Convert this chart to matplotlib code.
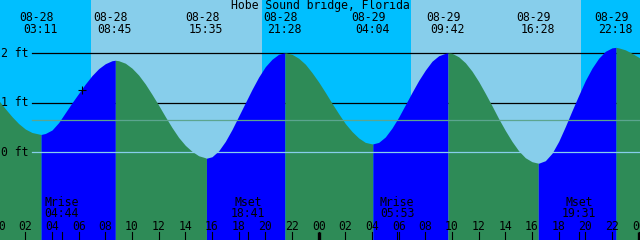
import numpy as np
import matplotlib
matplotlib.use('Agg')
import matplotlib.pyplot as plt

# Params
title   ='Hobe Sound bridge, Florida'
days    =['08-28','08-29']

# Tide extremes (date, time, height in ft)
ext_dates=['08-28','08-28','08-28','08-28','08-29','08-29','08-29','08-29']
ext_times=['03:11','08:45','15:35','21:28','04:04','09:42','16:28','22:18']
ext_ft   =[0.36, 1.86, -0.12, 2.01, 0.17, 2.01, -0.22, 2.12]

# Half-hourly water level (ft), hour 0 = 08-28 00:00
hours =[i/2 for i in range(99)]
levels=[1.05,0.88,0.72,0.58,0.47,0.40,0.37,0.38,0.45,0.60,
        0.80,1.00,1.19,1.38,1.55,1.69,1.79,1.85,1.85,1.80,
        1.70,1.56,1.38,1.17,0.95,0.72,0.50,0.30,0.14,0.02,
        -0.07,-0.11,-0.09,0.03,0.22,0.46,0.73,1.00,1.27,1.52,
        1.73,1.88,1.98,2.01,1.98,1.90,1.78,1.61,1.42,1.21,
        0.99,0.78,0.58,0.42,0.29,0.20,0.17,0.20,0.31,0.49,
        0.71,0.96,1.21,1.45,1.66,1.84,1.95,2.00,2.00,1.93,
        1.81,1.64,1.43,1.19,0.94,0.68,0.44,0.22,0.03,-0.11,
        -0.19,-0.22,-0.17,-0.02,0.22,0.52,0.84,1.15,1.45,1.70,
        1.90,2.04,2.11,2.11,2.07,2.00,1.92,1.83,1.72]

# Sun and moon
sunrise=['08-28 06:56','08-29 06:56']
sunset =['08-28 19:46','08-29 19:41']
moon_names=['Mrise','Mset','Mrise','Mset']
moon_times=['08-28 04:44','08-28 18:41','08-29 05:53','08-29 19:31']

now_time ='08-28 06:13'
now_level=1.26
msl      =0.65
ft_lines =[0,1,2]

# Colors
c_night='#00BFFF'
c_day  ='#87CEEB'
c_flood='#0000FF'
c_ebb  ='#2E8B57'
c_datum='#87CEEB'
c_msl  ='#5CA58F'

def to_hour(stamp):
    d,t=stamp.split()
    hh,mm=t.split(':')
    return 24*days.index(d)+int(hh)+int(mm)/60.

W,H=640,240
x0,x1=0.1,48.1
y0,y1=-1.772,3.077
fs=8.3
mono='DejaVu Sans Mono'

fig=plt.figure(figsize=(W/100,H/100),dpi=100)
ax=fig.add_axes([0,0,1,1])
ax.set_xlim(x0,x1)
ax.set_ylim(y0,y1)
ax.axis('off')
tx=ax.get_xaxis_transform()

# Day / night background
ax.axvspan(x0,x1,color=c_night,lw=0,zorder=0)
for r,s in zip(sunrise,sunset):
    ax.axvspan(to_hour(r),to_hour(s),color=c_day,lw=0,zorder=0)

# Foot lines behind the water
for v in ft_lines[1:]:
    ax.axhline(v,xmin=32/W,color='black',lw=0.9,zorder=1)

# Tide fill, rising blue, falling green
ext_h=[to_hour(d+' '+t) for d,t in zip(ext_dates,ext_times)]
t=np.array(hours+ext_h,dtype=float)
h=np.array(levels+ext_ft,dtype=float)
o=np.argsort(t)
t,h=t[o],h[o]
bounds=[t[0]]+ext_h+[t[-1]]
for a,b in zip(bounds[:-1],bounds[1:]):
    m=(t>=a)&(t<=b)
    rising=h[m][-1]>h[m][0]
    ax.fill_between(t[m],y0,h[m],color=c_flood if rising else c_ebb,
                    lw=0,antialiased=False,zorder=2)

# Datum and mean level
ax.axhline(0,xmin=32/W,color=c_datum,lw=0.9,zorder=3)
ax.axhline(msl,xmin=32/W,color=c_msl,lw=0.9,zorder=3)

for v in ft_lines:
    ax.text(0.002,v,'{} ft'.format(v),transform=ax.get_yaxis_transform(),
            ha='left',va='center',fontsize=fs,family=mono,zorder=5)

# Current time mark
ax.plot([to_hour(now_time)],[now_level],marker='+',color='black',
        ms=6,mew=0.8,zorder=5)

# Title and extreme labels
ax.text(0.5,1-6/H,title,transform=ax.transAxes,ha='center',va='center',
        fontsize=fs,family=mono,zorder=5)
for d,tt,xh in zip(ext_dates,ext_times,ext_h):
    ax.annotate(d,(xh,1-17.5/H),xycoords=tx,xytext=(-3.2,0),
                textcoords='offset points',ha='center',va='center',
                fontsize=fs,family=mono,zorder=5)
    ax.annotate(tt,(xh,1-29.5/H),xycoords=tx,xytext=(-0.5,0),
                textcoords='offset points',ha='center',va='center',
                fontsize=fs,family=mono,zorder=5)

# Hour ticks along the bottom
tick_h=list(range(0,50,2))
for th in tick_h:
    ax.plot([th,th],[0,8.5/H],transform=tx,color='black',lw=0.8,zorder=5)
    ax.text(th,1-226.5/H,'{:02d}'.format(th%24),transform=tx,ha='center',
            va='center',fontsize=fs,family=mono,zorder=5)
for th in [0,24,48]:
    ax.plot([th,th],[0,8.5/H],transform=tx,color='black',lw=2.4,
            solid_capstyle='butt',zorder=5)

# Moon rise / set
for n,mt in zip(moon_names,moon_times):
    xh=to_hour(mt)
    ax.plot([xh,xh],[0,8.5/H],transform=tx,color='black',lw=0.8,zorder=5)
    ax.text(xh,1-202/H,n,transform=tx,ha='center',va='center',
            fontsize=fs,family=mono,zorder=5)
    ax.text(xh,1-213.5/H,mt.split()[1],transform=tx,ha='center',va='center',
            fontsize=fs,family=mono,zorder=5)

fig.savefig('out.png',dpi=100)
